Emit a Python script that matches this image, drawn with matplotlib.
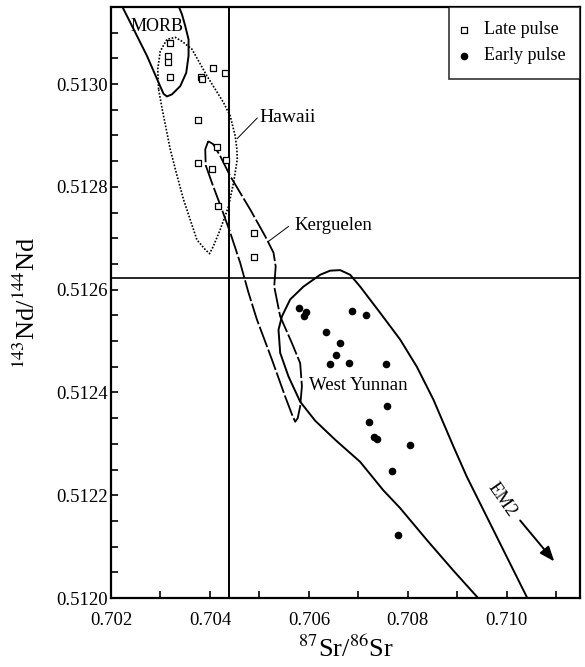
import numpy as np
import matplotlib
matplotlib.use('Agg')
import matplotlib.pyplot as plt
from matplotlib.ticker import MultipleLocator, FormatStrFormatter

plt.rcParams['font.family'] = ['Liberation Serif', 'DejaVu Serif']
plt.rcParams['mathtext.fontset'] = 'stix'

# samples
late_sr = [0.70320, 0.70316, 0.70316, 0.70320, 0.70382, 0.70384, 0.70406, 0.70430,
           0.70376, 0.70414, 0.70376, 0.70405, 0.70433, 0.70416, 0.70490, 0.70490]
late_nd = [0.513080, 0.513055, 0.513043, 0.513014, 0.513014, 0.513010, 0.513031, 0.513021,
           0.512931, 0.512878, 0.512846, 0.512835, 0.512852, 0.512763, 0.512711, 0.512664]

early_sr = [0.70581, 0.70595, 0.70591, 0.70687, 0.70716, 0.70635, 0.70662, 0.70655, 0.70642,
            0.70682, 0.70756, 0.70758, 0.70722, 0.70732, 0.70738, 0.70805, 0.70767, 0.70781]
early_nd = [0.512564, 0.512557, 0.512548, 0.512559, 0.512551, 0.512518, 0.512497, 0.512473,
            0.512455, 0.512458, 0.512455, 0.512374, 0.512343, 0.512314, 0.512309, 0.512297,
            0.512247, 0.512122]

# field outlines
morb_sr = [0.702147, 0.702222, 0.702457, 0.702727, 0.702962, 0.703063, 0.703131, 0.703232,
           0.703400, 0.703521, 0.703568, 0.703568, 0.703501, 0.703434, 0.703366, 0.703319]
morb_nd = [0.513177, 0.513152, 0.513107, 0.513055, 0.513003, 0.512981, 0.512976, 0.512980,
           0.512996, 0.513022, 0.513055, 0.513087, 0.513113, 0.513136, 0.513152, 0.513177]

hawaii_sr = [0.702962, 0.702945, 0.702996, 0.703131, 0.703299, 0.703440, 0.703636, 0.703939,
             0.704275, 0.704410, 0.704511, 0.704545, 0.704552, 0.704477, 0.704376, 0.704208,
             0.704067, 0.703992, 0.703905, 0.703737, 0.703467, 0.703329, 0.703198, 0.703036,
             0.702962]
hawaii_nd = [0.512990, 0.513029, 0.513064, 0.513087, 0.513091, 0.513083, 0.513068, 0.513016,
             0.512964, 0.512938, 0.512899, 0.512873, 0.512853, 0.512808, 0.512762, 0.512717,
             0.512684, 0.512670, 0.512678, 0.512697, 0.512775, 0.512824, 0.512873, 0.512951,
             0.512990]

kerg_sr = [0.703966, 0.703905, 0.703915, 0.704040, 0.704242, 0.704410, 0.704612, 0.704780,
           0.704949, 0.705253, 0.705521, 0.705663, 0.705723, 0.705774, 0.705824, 0.705859,
           0.705824, 0.705657, 0.705420, 0.705299, 0.705329, 0.705285, 0.705117, 0.704814,
           0.704410, 0.704208, 0.704067, 0.703966]
kerg_nd = [0.512889, 0.512873, 0.512842, 0.512808, 0.512756, 0.512711, 0.512652, 0.512594,
           0.512542, 0.512464, 0.512392, 0.512356, 0.512343, 0.512350, 0.512373, 0.512412,
           0.512457, 0.512496, 0.512548, 0.512606, 0.512645, 0.512672, 0.512704, 0.512756,
           0.512821, 0.512860, 0.512883, 0.512889]

wy_sr = [0.709481, 0.709420, 0.708915, 0.708384, 0.707844, 0.707501, 0.707036, 0.706531,
         0.706127, 0.705824, 0.705588, 0.705420, 0.705386, 0.705455, 0.705622, 0.705891,
         0.706228, 0.706430, 0.706632, 0.706834, 0.707036, 0.707440, 0.707844, 0.708182,
         0.708517, 0.708921, 0.709192, 0.709798, 0.710404, 0.710471]
wy_nd = [0.511988, 0.512000, 0.512054, 0.512113, 0.512175, 0.512210, 0.512265, 0.512308,
         0.512345, 0.512382, 0.512431, 0.512477, 0.512522, 0.512548, 0.512581, 0.512606,
         0.512629, 0.512637, 0.512638, 0.512629, 0.512606, 0.512555, 0.512503, 0.512450,
         0.512386, 0.512295, 0.512236, 0.512119, 0.512002, 0.511988]

bulk_earth_sr = 0.70438
chur_nd = 0.512623

fig = plt.figure(figsize=(5.85, 6.67), dpi=100)
ax = fig.add_axes([0.1897, 0.1034, 0.8018, 0.8861])

ax.plot(morb_sr, morb_nd, color='black', lw=1.4)
ax.plot(hawaii_sr, hawaii_nd, color='black', lw=1.2, linestyle=(0, (1, 1)))
ax.plot(kerg_sr, kerg_nd, color='black', lw=1.3, linestyle=(0, (12, 1.5)))
ax.plot(wy_sr, wy_nd, color='black', lw=1.4)

ax.axvline(bulk_earth_sr, color='black', lw=1.4)
ax.axhline(chur_nd, color='black', lw=1.2)

ax.scatter(late_sr, late_nd, marker='s', s=22, facecolor='white', edgecolor='black',
           linewidths=0.9, zorder=5, label='Late pulse')
ax.scatter(early_sr, early_nd, marker='o', s=20, color='black', zorder=5, label='Early pulse')

ax.text(0.702935, 0.513112, 'MORB', fontsize=13, ha='center', va='center')
ax.text(0.70500, 0.512935, 'Hawaii', fontsize=14, ha='left', va='center')
ax.plot([0.704552, 0.704956], [0.512894, 0.512934], color='black', lw=0.7)
ax.text(0.70571, 0.512724, 'Kerguelen', fontsize=13.5, ha='left', va='center')
ax.plot([0.705184, 0.705588], [0.512694, 0.512723], color='black', lw=0.7)
ax.text(0.70601, 0.512413, 'West Yunnan', fontsize=13.5, ha='left', va='center')
ax.text(0.70990, 0.512191, 'EM2', fontsize=13.5, ha='center', va='center', rotation=-55)
ax.annotate('', xy=(0.710996, 0.512067), xytext=(0.710234, 0.512155),
            arrowprops=dict(arrowstyle='-|>,head_length=0.9,head_width=0.35',
                            color='black', lw=1.4))

ax.set_xlim(0.702, 0.71148)
ax.set_ylim(0.5120, 0.51315)
ax.xaxis.set_major_locator(MultipleLocator(0.002))
ax.xaxis.set_minor_locator(MultipleLocator(0.001))
ax.xaxis.set_major_formatter(FormatStrFormatter('%.3f'))
ax.yaxis.set_major_locator(MultipleLocator(0.0002))
ax.yaxis.set_minor_locator(MultipleLocator(0.00005))
ax.yaxis.set_major_formatter(FormatStrFormatter('%.4f'))
ax.tick_params(which='both', direction='in', length=5, width=1.2, labelsize=13.5,
               top=False, right=False)
ax.tick_params(axis='y', pad=2)
ax.tick_params(axis='x', pad=10)
for s in ax.spines.values():
    s.set_linewidth(1.6)

ax.set_xlabel(r'$^{87}$Sr/$^{86}$Sr', fontsize=19, labelpad=5)
ax.set_ylabel(r'$^{143}$Nd/$^{144}$Nd', fontsize=19, labelpad=12)

leg = ax.legend(loc='upper right', borderaxespad=0, fontsize=13, frameon=True,
                fancybox=False, edgecolor='black', handletextpad=1.1,
                borderpad=0.8, labelspacing=0.5, handlelength=0.05)
leg.get_frame().set_linewidth(1.2)

fig.savefig('out.png', dpi=100)
